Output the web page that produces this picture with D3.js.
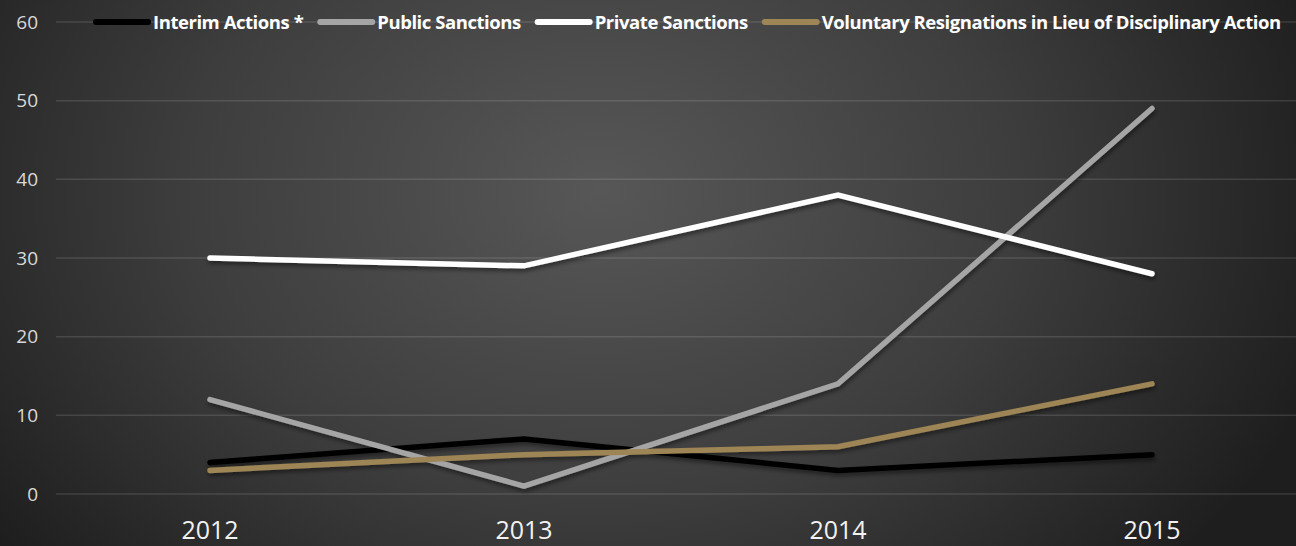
<!DOCTYPE html>
<html>
<head>
<meta charset="utf-8">
<script src="https://cdn.jsdelivr.net/npm/d3@7"></script>
<style>
  html, body { margin: 0; padding: 0; background: #262626; }
  svg { display: block; }
</style>
</head>
<body>
<svg id="chart" width="1296" height="546"></svg>
<script>
// Disciplinary actions by year
const years = ["2012", "2013", "2014", "2015"];
const seriesNames = [
  "Interim Actions *",
  "Public Sanctions",
  "Private Sanctions",
  "Voluntary Resignations in Lieu of Disciplinary Action"
];
const interimActions = [4, 7, 3, 5];
const publicSanctions = [12, 1, 14, 49];
const privateSanctions = [30, 29, 38, 28];
const voluntaryResignations = [3, 5, 6, 14];
const yTicks = [0, 10, 20, 30, 40, 50, 60];
const seriesColors = ["#000000", "#a5a5a5", "#ffffff", "#9e8555"];

const seriesValues = [interimActions, publicSanctions, privateSanctions, voluntaryResignations];
const series = seriesNames.map((name, i) => ({ name, color: seriesColors[i], values: seriesValues[i] }));

const W = 1296, H = 546;
const svg = d3.select("#chart");
const defs = svg.append("defs");

// Dark radial background, lighter toward the upper middle
const grad = defs.append("radialGradient")
  .attr("id", "bg").attr("gradientUnits", "userSpaceOnUse")
  .attr("cx", 600).attr("cy", 190).attr("r", 760)
  .attr("gradientTransform", "translate(600,190) scale(1,0.75) translate(-600,-190)");
grad.append("stop").attr("offset", "0%").attr("stop-color", "#575757");
grad.append("stop").attr("offset", "55%").attr("stop-color", "#3d3d3d");
grad.append("stop").attr("offset", "100%").attr("stop-color", "#1e1e1e");

const shadow = defs.append("filter").attr("id", "shadow")
  .attr("x", "-5%").attr("y", "-20%").attr("width", "110%").attr("height", "140%");
shadow.append("feDropShadow").attr("dx", 1).attr("dy", 3).attr("stdDeviation", 2)
  .attr("flood-color", "#000").attr("flood-opacity", 0.45);

svg.append("rect").attr("width", W).attr("height", H).attr("fill", "url(#bg)");

const x = d3.scaleBand().domain(years).range([53, 1309]);
const y = d3.scaleLinear().domain([0, 60]).range([494, 22]);

// Horizontal gridlines
svg.append("g").selectAll("line").data(yTicks).join("line")
  .attr("x1", 56).attr("x2", W)
  .attr("y1", d => y(d)).attr("y2", d => y(d))
  .attr("stroke", "#ffffff").attr("stroke-opacity", 0.12).attr("stroke-width", 1.5);

// Y axis labels
const yAxis = d3.axisLeft(y).tickValues(yTicks).tickSize(0).tickPadding(0);
const gy = svg.append("g").attr("transform", "translate(38,0)").call(yAxis);
gy.select(".domain").remove();
gy.selectAll("text")
  .attr("fill", "#d9d9d9")
  .style("font-family", "'Open Sans', 'Noto Sans', sans-serif")
  .style("font-size", "19px");

// X axis labels
const xAxis = d3.axisBottom(x).tickSize(0).tickPadding(0);
const gx = svg.append("g").attr("transform", "translate(0,521)").call(xAxis);
gx.select(".domain").remove();
gx.selectAll("text")
  .attr("fill", "#f2f2f2")
  .style("font-family", "'Open Sans', 'Noto Sans', sans-serif")
  .style("font-size", "25px");

// Series lines
const line = d3.line()
  .x((d, i) => x(years[i]) + x.bandwidth() / 2)
  .y(d => y(d));

svg.append("g").attr("filter", "url(#shadow)")
  .selectAll("path").data(series).join("path")
  .attr("d", d => line(d.values))
  .attr("fill", "none")
  .attr("stroke", d => d.color)
  .attr("stroke-width", 5.5)
  .attr("stroke-linecap", "round")
  .attr("stroke-linejoin", "miter");

// Legend across the top
const legend = svg.append("g").attr("transform", "translate(0,22)");
let cursor = 96;
series.forEach(s => {
  const item = legend.append("g");
  item.append("line")
    .attr("x1", cursor).attr("x2", cursor + 52)
    .attr("y1", 0).attr("y2", 0)
    .attr("stroke", s.color).attr("stroke-width", 6).attr("stroke-linecap", "round");
  const t = item.append("text")
    .attr("x", cursor + 57).attr("y", 6.5)
    .attr("fill", "#ffffff")
    .style("font-family", "'Open Sans', 'Noto Sans', sans-serif")
    .style("font-weight", "700")
    .style("font-size", "18.5px")
    .style("letter-spacing", "-0.45px")
    .text(s.name);
  cursor += 57 + t.node().getComputedTextLength() + 17;
});
</script>
</body>
</html>
